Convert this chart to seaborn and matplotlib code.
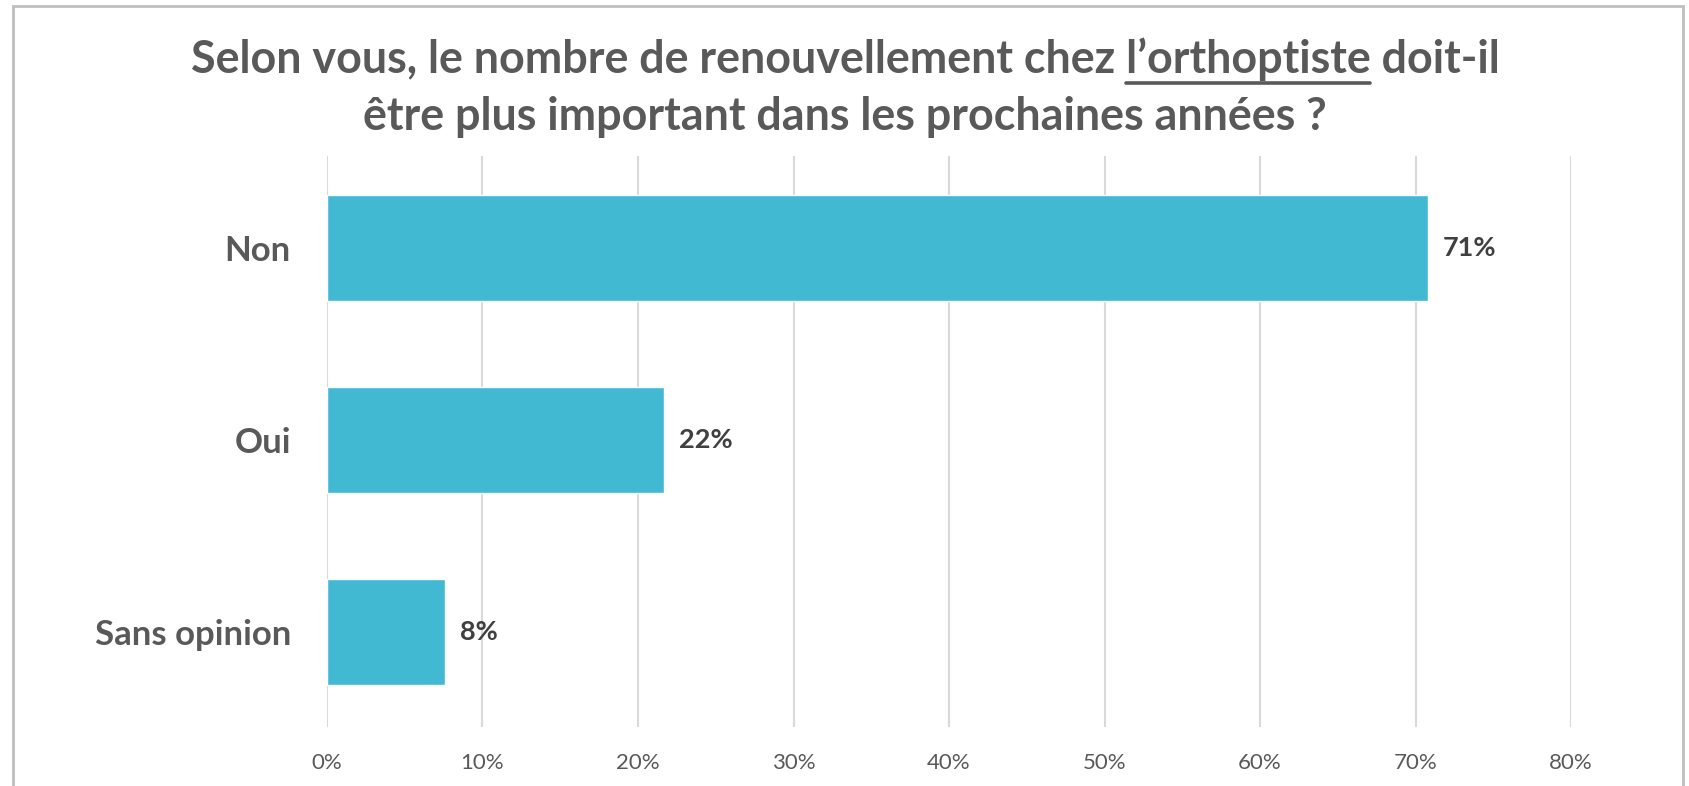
import matplotlib
matplotlib.use('Agg')
import matplotlib.pyplot as plt
import seaborn as sns
import pandas as pd
from matplotlib.patches import Rectangle
from matplotlib.lines import Line2D

sns.set_style('white')
plt.rcParams['font.family'] = ['Lato', 'DejaVu Sans']

# données
categories = ['Non', 'Oui', 'Sans opinion']
valeurs = [0.708, 0.217, 0.076]
etiquettes = ['71%', '22%', '8%']
ticks = [0, 0.1, 0.2, 0.3, 0.4, 0.5, 0.6, 0.7, 0.8]
tick_labels = ['0%', '10%', '20%', '30%', '40%', '50%', '60%', '70%', '80%']

df = pd.DataFrame({'reponse': categories, 'part': valeurs})

W, H = 1690, 786
fig = plt.figure(figsize=(W / 100, H / 100), dpi=100)
ax = fig.add_axes([327 / W, 1 - 727 / H, (1571 - 327) / W, (727 - 156) / H])

sns.barplot(data=df, x='part', y='reponse', orient='h', color='#41B9D3',
            width=0.55, saturation=1, ax=ax, zorder=3)

ax.set_xlim(0, 0.8)
ax.set_ylim(2.495, -0.48)
ax.set_xticks(ticks)
ax.set_xticklabels(tick_labels, fontsize=16, color='#595959')
ax.set_yticks(range(len(categories)))
ax.set_yticklabels(categories, fontsize=25, fontweight='bold', color='#595959')
ax.tick_params(axis='both', length=0)
ax.tick_params(axis='y', pad=26)
ax.tick_params(axis='x', pad=19)
ax.set_xlabel('')
ax.set_ylabel('')
for s in ax.spines.values():
    s.set_visible(False)
ax.grid(axis='x', color='#d9d9d9', linewidth=1.5, zorder=0)
ax.set_axisbelow(True)

for i, (v, lab) in enumerate(zip(valeurs, etiquettes)):
    ax.annotate(lab, (v, i), xytext=(15, 0), textcoords='offset pixels',
                va='center', ha='left', fontsize=19.5, fontweight='bold', color='#404040')

# titre avec soulignement
ligne1 = 'Selon vous, le nombre de renouvellement chez l’orthoptiste doit-il'
prefixe = 'Selon vous, le nombre de renouvellement chez '
mot = 'l’orthoptiste'
ligne2 = 'être plus important dans les prochaines années ?'
props = dict(fontsize=32.3, fontweight='bold', color='#595959')

t1 = fig.text(0.5, 1 - 73 / H, ligne1, ha='center', va='baseline', **props)
fig.text(0.5, 1 - 130 / H, ligne2, ha='center', va='baseline', **props)

fig.canvas.draw()
r = fig.canvas.get_renderer()

def largeur(s):
    t = fig.text(0, 0, s, **props)
    w = t.get_window_extent(r).width
    t.remove()
    return w

x0 = t1.get_window_extent(r).x0
debut = x0 + largeur(prefixe + 'x') - largeur('x')
fin = debut + largeur(mot)
y_soul = 1 - 83 / H
fig.add_artist(Line2D([debut / W, fin / W], [y_soul, y_soul], color='#595959',
                      linewidth=2.6, transform=fig.transFigure))

# cadre
fig.add_artist(Rectangle((13 / W, -0.05), (1683 - 13) / W, 1.05 - 6 / H,
                         transform=fig.transFigure, fill=False,
                         edgecolor='#bfbfbf', linewidth=2))

fig.savefig('out.png', dpi=100)
